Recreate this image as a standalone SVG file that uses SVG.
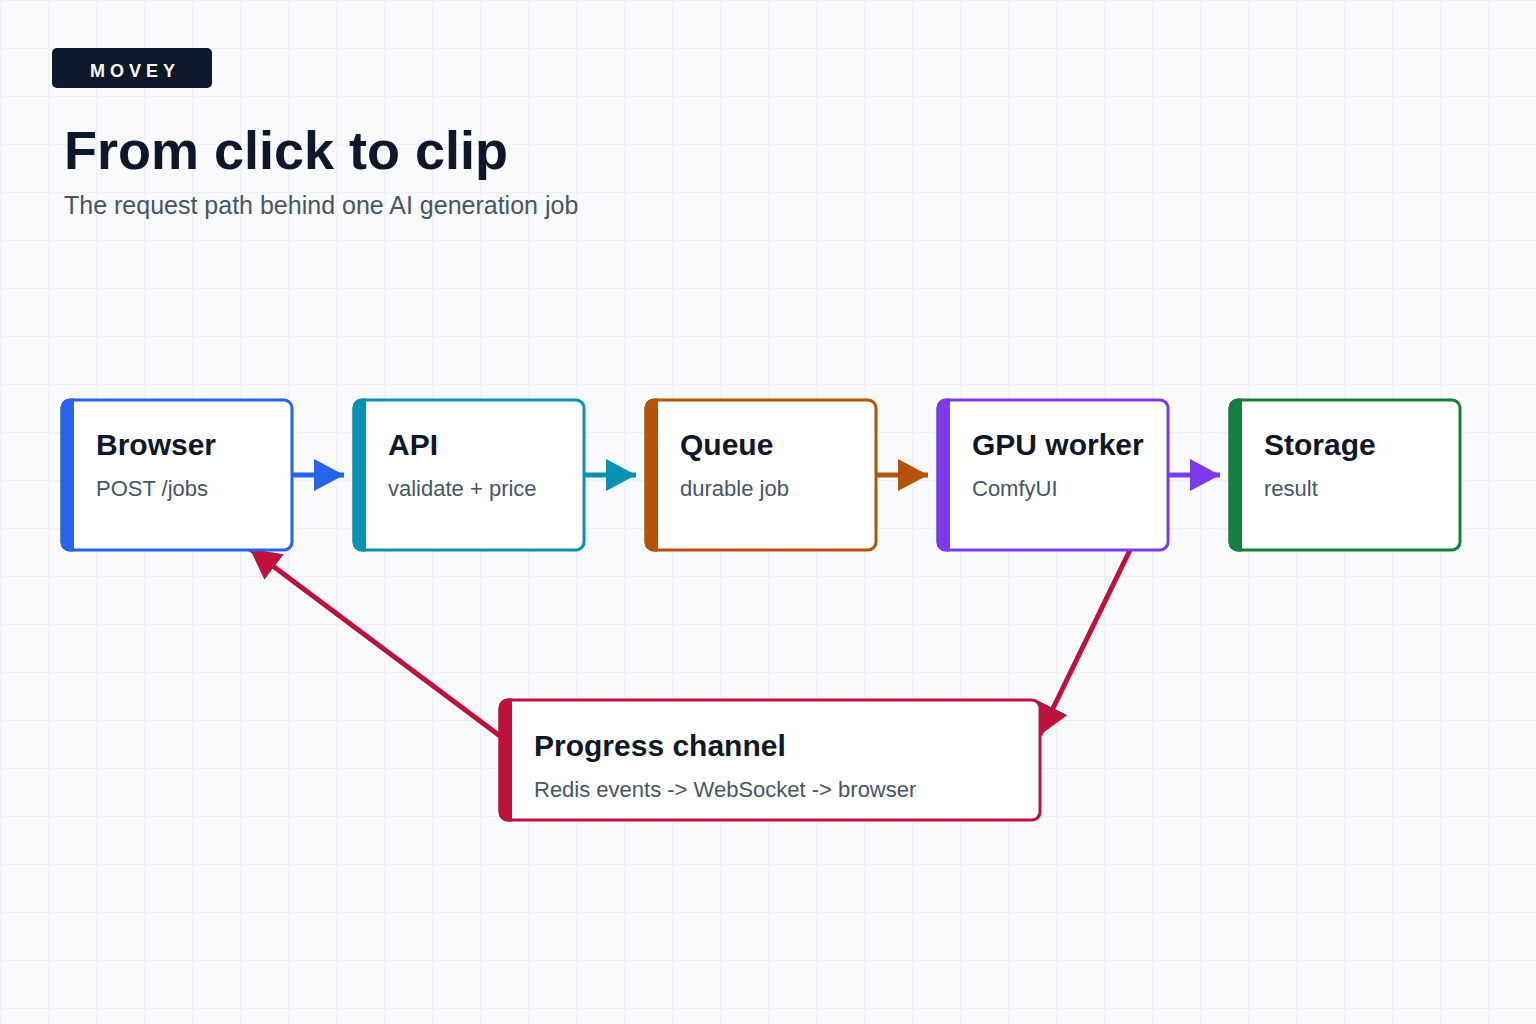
<svg xmlns="http://www.w3.org/2000/svg" width="1536" height="1024" viewBox="0 0 1536 1024">
  <defs>
    <pattern id="grid" x="0" y="0" width="48" height="48" patternUnits="userSpaceOnUse">
      <path d="M0,0 H48 M0,0 V48" fill="none" stroke="#eef1f6" stroke-width="3"/>
    </pattern>
    <marker id="mBlue" markerUnits="userSpaceOnUse" markerWidth="32" markerHeight="34" refX="30" refY="16" orient="auto" viewBox="0 0 32 32"><path d="M0,0 L30,16 L0,32 Z" fill="#2563eb"/></marker>
    <marker id="mCyan" markerUnits="userSpaceOnUse" markerWidth="32" markerHeight="34" refX="30" refY="16" orient="auto" viewBox="0 0 32 32"><path d="M0,0 L30,16 L0,32 Z" fill="#0891b2"/></marker>
    <marker id="mOrange" markerUnits="userSpaceOnUse" markerWidth="32" markerHeight="34" refX="30" refY="16" orient="auto" viewBox="0 0 32 32"><path d="M0,0 L30,16 L0,32 Z" fill="#b45309"/></marker>
    <marker id="mPurple" markerUnits="userSpaceOnUse" markerWidth="32" markerHeight="34" refX="30" refY="16" orient="auto" viewBox="0 0 32 32"><path d="M0,0 L30,16 L0,32 Z" fill="#7c3aed"/></marker>
    <marker id="mRed" markerUnits="userSpaceOnUse" markerWidth="32" markerHeight="34" refX="30" refY="16" orient="auto" viewBox="0 0 32 32"><path d="M0,0 L30,16 L0,32 Z" fill="#be123c"/></marker>
  </defs>
  <style>
    text { font-family: "Liberation Sans", Arial, Helvetica, sans-serif; }
    .box { fill: #ffffff; stroke-width: 3; }
    .ntitle { font-size: 30px; font-weight: bold; fill: #0f172a; }
    .nsub { font-size: 22px; fill: #475569; }
    .conn { fill: none; stroke-width: 5; }
  </style>
  <rect x="0" y="0" width="1536" height="1024" fill="#f8fafc"/>
  <rect x="0" y="0" width="1536" height="1024" fill="url(#grid)"/>

  <g id="header">
    <rect x="52" y="48" width="160" height="40" rx="5" fill="#0f172a"/>
    <text x="90" y="77" font-size="18" font-weight="bold" fill="#ffffff" letter-spacing="5">MOVEY</text>
    <text x="64" y="169" font-size="54" font-weight="bold" fill="#0f172a">From click to clip</text>
    <text x="64" y="214" font-size="25" fill="#475569">The request path behind one AI generation job</text>
  </g>

  <g id="connectors">
    <line class="conn" x1="292" y1="475" x2="344" y2="475" stroke="#2563eb" marker-end="url(#mBlue)"/>
    <line class="conn" x1="584" y1="475" x2="636" y2="475" stroke="#0891b2" marker-end="url(#mCyan)"/>
    <line class="conn" x1="876" y1="475" x2="928" y2="475" stroke="#b45309" marker-end="url(#mOrange)"/>
    <line class="conn" x1="1168" y1="475" x2="1220" y2="475" stroke="#7c3aed" marker-end="url(#mPurple)"/>
    <line class="conn" x1="1130" y1="550" x2="1040" y2="735" stroke="#be123c" marker-end="url(#mRed)"/>
    <line class="conn" x1="500" y1="736" x2="250" y2="549" stroke="#be123c" marker-end="url(#mRed)"/>
  </g>

  <g id="browser" transform="translate(62,400)">
    <rect class="box" x="0" y="0" width="230" height="150" rx="8" stroke="#2563eb"/>
    <path d="M-1.5,8 A9.5,9.5 0 0 1 8,-1.5 H12 V151.5 H8 A9.5,9.5 0 0 1 -1.5,142 Z" fill="#2563eb"/>
    <text class="ntitle" x="34" y="55">Browser</text>
    <text class="nsub" x="34" y="96">POST /jobs</text>
  </g>

  <g id="api" transform="translate(354,400)">
    <rect class="box" x="0" y="0" width="230" height="150" rx="8" stroke="#0891b2"/>
    <path d="M-1.5,8 A9.5,9.5 0 0 1 8,-1.5 H12 V151.5 H8 A9.5,9.5 0 0 1 -1.5,142 Z" fill="#0891b2"/>
    <text class="ntitle" x="34" y="55">API</text>
    <text class="nsub" x="34" y="96">validate + price</text>
  </g>

  <g id="queue" transform="translate(646,400)">
    <rect class="box" x="0" y="0" width="230" height="150" rx="8" stroke="#b45309"/>
    <path d="M-1.5,8 A9.5,9.5 0 0 1 8,-1.5 H12 V151.5 H8 A9.5,9.5 0 0 1 -1.5,142 Z" fill="#b45309"/>
    <text class="ntitle" x="34" y="55">Queue</text>
    <text class="nsub" x="34" y="96">durable job</text>
  </g>

  <g id="gpu-worker" transform="translate(938,400)">
    <rect class="box" x="0" y="0" width="230" height="150" rx="8" stroke="#7c3aed"/>
    <path d="M-1.5,8 A9.5,9.5 0 0 1 8,-1.5 H12 V151.5 H8 A9.5,9.5 0 0 1 -1.5,142 Z" fill="#7c3aed"/>
    <text class="ntitle" x="34" y="55">GPU worker</text>
    <text class="nsub" x="34" y="96">ComfyUI</text>
  </g>

  <g id="storage" transform="translate(1230,400)">
    <rect class="box" x="0" y="0" width="230" height="150" rx="8" stroke="#15803d"/>
    <path d="M-1.5,8 A9.5,9.5 0 0 1 8,-1.5 H12 V151.5 H8 A9.5,9.5 0 0 1 -1.5,142 Z" fill="#15803d"/>
    <text class="ntitle" x="34" y="55">Storage</text>
    <text class="nsub" x="34" y="96">result</text>
  </g>

  <g id="progress-channel" transform="translate(500,700)">
    <rect class="box" x="0" y="0" width="540" height="120" rx="8" stroke="#be123c"/>
    <path d="M-1.5,8 A9.5,9.5 0 0 1 8,-1.5 H12 V121.5 H8 A9.5,9.5 0 0 1 -1.5,112 Z" fill="#be123c"/>
    <text class="ntitle" x="34" y="56">Progress channel</text>
    <text class="nsub" x="34" y="97">Redis events -&gt; WebSocket -&gt; browser</text>
  </g>
</svg>
